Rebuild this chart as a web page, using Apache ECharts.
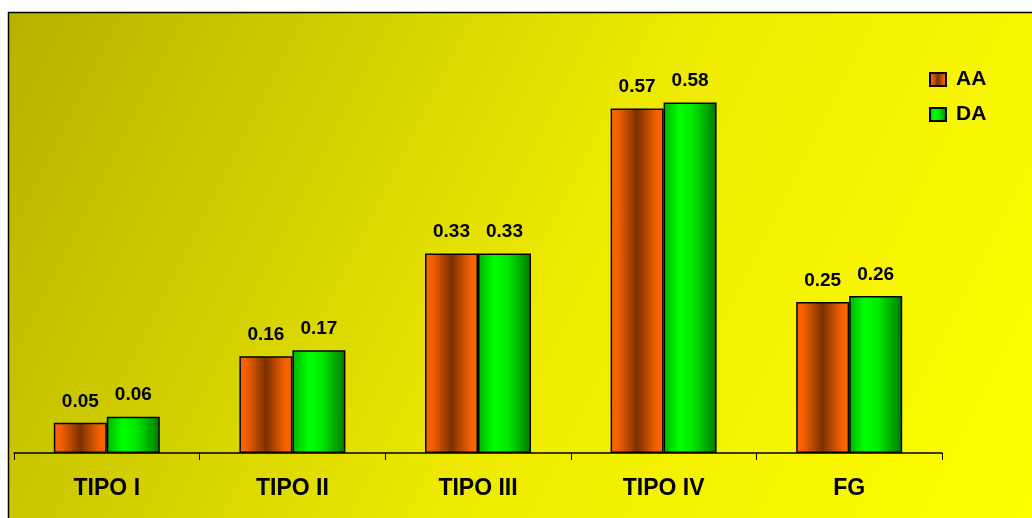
<!DOCTYPE html>
<html>
<head>
<meta charset="utf-8">
<script src="https://cdn.jsdelivr.net/npm/echarts@6/dist/echarts.min.js"></script>
<style>
  html, body { margin: 0; padding: 0; background: #ffffff; }
  #chart { width: 1032px; height: 518px; }
</style>
</head>
<body>
<div id="chart"></div>
<script>
// Categories and values per group
const categories = ['TIPO I', 'TIPO II', 'TIPO III', 'TIPO IV', 'FG'];
const seriesNames = ['AA', 'DA'];
const valuesAA = [0.05, 0.16, 0.33, 0.57, 0.25];
const valuesDA = [0.06, 0.17, 0.33, 0.58, 0.26];

const chart = echarts.init(document.getElementById('chart'));

// Cylinder-like horizontal shading for each series
const orangeFill = new echarts.graphic.LinearGradient(0, 0, 1, 0, [
  { offset: 0, color: '#ff6600' },
  { offset: 0.15, color: '#f05e00' },
  { offset: 0.5, color: '#7a3000' },
  { offset: 0.85, color: '#f26000' },
  { offset: 1, color: '#ff6600' }
]);
const greenFill = new echarts.graphic.LinearGradient(0, 0, 1, 0, [
  { offset: 0, color: '#00b400' },
  { offset: 0.3, color: '#00ff00' },
  { offset: 0.55, color: '#00ea00' },
  { offset: 1, color: '#007800' }
]);

const labelStyle = {
  show: true,
  position: 'top',
  distance: 12,
  formatter: p => p.value.toFixed(2),
  color: '#000',
  fontFamily: '"Liberation Sans", Arial, sans-serif',
  fontWeight: 'bold',
  fontSize: 19,
  lineHeight: 19
};

chart.setOption({
  animation: false,
  graphic: [{
    type: 'rect',
    z: -10,
    silent: true,
    shape: { x: 8.5, y: 12.5, width: 1040, height: 520 },
    style: {
      fill: new echarts.graphic.LinearGradient(0, 0, 1, 1, [
        { offset: 0, color: '#b6b200' },
        { offset: 0.55, color: '#f0ec00' },
        { offset: 1, color: '#ffff00' }
      ]),
      stroke: '#000',
      lineWidth: 1.5
    }
  }],
  legend: {
    orient: 'vertical',
    left: 924,
    top: 64,
    icon: 'rect',
    itemWidth: 16,
    itemHeight: 13,
    itemGap: 14,
    data: seriesNames,
    textStyle: {
      color: '#000',
      fontFamily: 'Liberation Sans, Arial, sans-serif',
      fontWeight: 'bold',
      fontSize: 21,
      lineHeight: 21,
      padding: [0, 0, 0, 5]
    }
  },
  grid: { left: 14, right: 90, top: 30, bottom: 65, containLabel: false },
  xAxis: {
    type: 'category',
    data: categories,
    axisLine: { show: true, lineStyle: { color: '#000', width: 1.5 } },
    axisTick: { show: true, length: 7, lineStyle: { color: '#000', width: 1 } },
    axisLabel: {
      color: '#000',
      fontFamily: 'Liberation Sans, Arial, sans-serif',
      fontWeight: 'bold',
      fontSize: 23,
      margin: 24
    }
  },
  yAxis: {
    type: 'value',
    min: 0,
    max: 0.7,
    show: false,
    splitLine: { show: false }
  },
  series: [
    {
      name: 'AA',
      type: 'bar',
      data: valuesAA,
      barWidth: 53,
      barGap: '0%',
      itemStyle: { color: orangeFill, borderColor: '#000', borderWidth: 1.5 },
      label: labelStyle
    },
    {
      name: 'DA',
      type: 'bar',
      data: valuesDA,
      barWidth: 53,
      itemStyle: { color: greenFill, borderColor: '#000', borderWidth: 1.5 },
      label: labelStyle
    }
  ]
});
</script>
</body>
</html>
